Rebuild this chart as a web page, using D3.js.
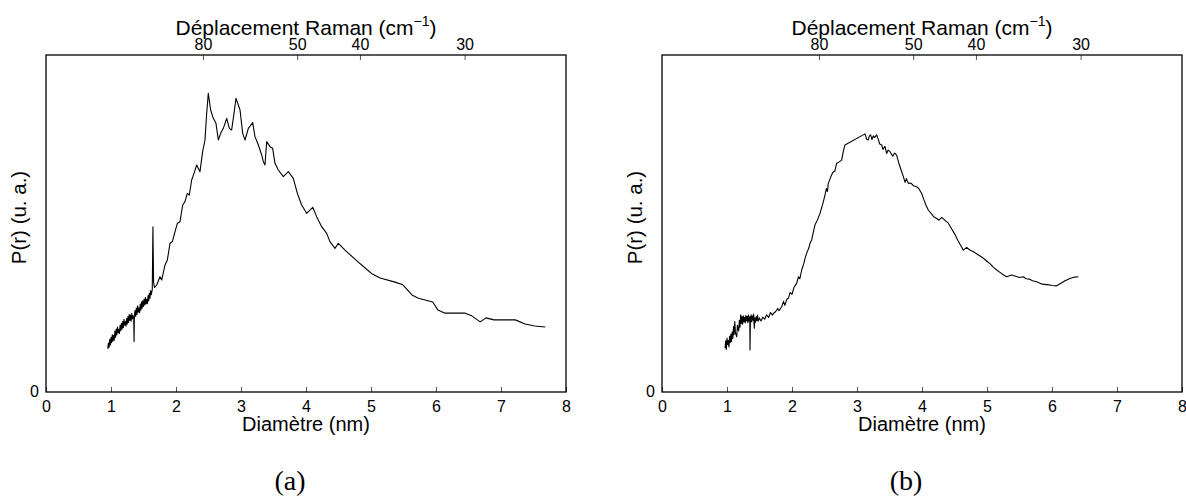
<!DOCTYPE html>
<html><head><meta charset="utf-8">
<script src="https://cdn.jsdelivr.net/npm/d3@7"></script>
<style>
html,body{margin:0;padding:0;background:#fff;}
svg text{font-family:"Liberation Sans",Arial,Helvetica,sans-serif;fill:#000;}
</style></head>
<body>
<svg id="chart" width="1186" height="498"></svg>
<script>
// ---- data ----
const diamTicks = [0,1,2,3,4,5,6,7,8];
const ramanTicks = [80,50,40,30];
const ramanConst = 193.2; // diameter (nm) = ramanConst / shift
const xLabel = "Diamètre (nm)";
const topLabel = "Déplacement Raman (cm";
const yLabel = "P(r) (u. a.)";
const panelLabels = ["(a)","(b)"];

const diamA = [0.95,0.96,0.97,0.98,0.99,1.00,1.01,1.02,1.03,1.04,1.05,1.06,1.07,1.08,1.09,1.10,1.11,1.12,1.13,1.14,1.15,1.16,1.17,1.18,1.19,1.20,1.21,1.22,1.23,1.24,1.25,1.26,1.27,1.28,1.29,1.30,1.31,1.32,1.33,1.34,1.35,1.355,1.36,1.37,1.38,1.39,1.40,1.41,1.42,1.43,1.44,1.45,1.46,1.47,1.48,1.49,1.50,1.51,1.52,1.53,1.54,1.55,1.56,1.57,1.58,1.59,1.60,1.61,1.62,1.635,1.645,1.655,1.67,1.703,1.754,1.780,1.831,1.867,1.908,1.944,1.985,2.021,2.062,2.103,2.138,2.174,2.205,2.241,2.277,2.318,2.369,2.410,2.446,2.472,2.497,2.533,2.574,2.615,2.651,2.687,2.728,2.780,2.821,2.856,2.892,2.923,2.959,2.985,3.026,3.062,3.113,3.180,3.215,3.267,3.318,3.344,3.369,3.395,3.446,3.487,3.523,3.574,3.651,3.728,3.805,3.867,3.933,4.010,4.103,4.164,4.241,4.318,4.369,4.446,4.497,4.60,4.80,4.91,5.02,5.14,5.37,5.49,5.63,5.72,5.83,5.95,6.03,6.14,6.29,6.45,6.55,6.68,6.77,6.89,7.06,7.22,7.37,7.52,7.68];
const probA = [12.8,14.5,13.2,15.6,13.9,16.2,14.6,17.0,15.1,16.8,15.4,18.1,16.2,18.7,16.9,19.3,17.5,18.6,17.4,19.8,18.2,20.4,18.6,20.9,19.1,21.6,19.8,20.9,19.5,21.8,20.1,22.4,20.6,23.0,21.2,22.8,21.0,23.3,21.7,22.6,21.9,15.0,22.8,24.2,22.4,24.9,23.0,25.6,23.7,25.0,23.5,26.1,24.3,26.8,24.9,27.1,25.4,27.6,25.8,28.0,26.1,27.5,26.2,28.6,27.0,29.3,27.8,30.1,28.9,30.4,49.0,32.5,31.0,31.75,34.22,33.23,37.69,39.17,44.12,44.61,47.58,50.05,50.54,55.49,56.48,58.95,58.46,62.91,64.89,67.36,65.38,71.31,74.78,82.69,88.63,83.68,81.21,79.72,74.78,76.76,78.24,81.21,78.24,77.74,82.69,87.14,85.16,83.68,76.76,74.78,78.24,79.92,75.77,73.29,70.33,68.35,67.36,74.28,72.80,72.31,67.85,65.88,63.90,65.38,63.40,58.95,55.49,53.02,54.80,52.03,49.06,47.08,44.61,42.63,44.12,42.1,38.6,36.8,35.0,33.8,32.6,31.8,28.8,27.9,27.3,26.7,24.3,23.4,23.4,23.4,22.6,20.8,22.0,21.4,21.4,21.4,20.2,19.6,19.3];

const diamB = [0.97,0.98,0.99,1.00,1.01,1.02,1.03,1.04,1.05,1.06,1.07,1.08,1.09,1.10,1.11,1.12,1.13,1.15,1.16,1.18,1.19,1.20,1.21,1.22,1.23,1.24,1.25,1.26,1.27,1.28,1.29,1.30,1.31,1.32,1.33,1.34,1.35,1.354,1.36,1.37,1.38,1.39,1.40,1.41,1.42,1.43,1.44,1.45,1.46,1.47,1.48,1.50,1.52,1.533,1.55,1.58,1.61,1.64,1.67,1.70,1.713,1.75,1.78,1.80,1.841,1.87,1.89,1.92,1.944,1.97,2.00,2.03,2.072,2.10,2.12,2.149,2.18,2.20,2.226,2.26,2.28,2.303,2.33,2.354,2.39,2.431,2.47,2.50,2.53,2.545,2.559,2.60,2.63,2.66,2.687,2.72,2.764,2.79,2.815,3.123,3.15,3.174,3.19,3.21,3.23,3.25,3.27,3.303,3.33,3.35,3.38,3.40,3.43,3.456,3.48,3.508,3.55,3.58,3.61,3.65,3.68,3.713,3.74,3.76,3.79,3.83,3.87,3.918,3.95,3.995,4.03,4.06,4.097,4.14,4.18,4.226,4.26,4.303,4.35,4.405,4.45,4.50,4.55,4.60,4.636,4.687,4.73,4.79,4.85,4.90,4.944,5.00,5.05,5.10,5.149,5.20,5.25,5.303,5.379,5.45,5.50,5.559,5.60,5.65,5.70,5.764,5.85,5.95,6.00,6.072,6.15,6.20,6.277,6.35,6.405];
const probB = [13.0,15.2,12.6,16.0,14.1,15.3,13.4,16.5,14.6,17.2,15.0,17.8,15.9,19.4,17.1,20.9,17.5,16.4,19.8,18.1,21.3,19.2,22.9,20.3,22.4,20.1,22.6,20.8,22.2,20.5,22.7,21.1,22.5,20.6,22.8,21.0,22.3,12.5,21.5,22.9,20.8,22.6,21.3,23.1,18.9,22.0,20.7,22.4,21.2,22.8,21.0,22.0,21.1,21.4,22.2,21.6,22.9,22.1,23.6,22.8,23.3,23.9,24.8,24.1,25.3,26.9,25.7,27.5,27.8,29.5,29.0,31.0,32.3,34.2,33.6,36.2,38.0,39.6,41.2,42.8,44.3,45.1,47.6,49.6,51.0,53.0,55.6,57.8,60.4,59.5,61.9,64.0,65.2,65.6,67.9,68.2,68.8,71.5,73.3,76.6,75.0,74.8,76.0,76.3,74.9,76.0,75.5,76.3,74.8,73.6,73.3,72.0,72.9,70.8,71.8,71.3,70.0,70.9,70.3,67.5,65.8,63.9,62.2,63.3,61.9,62.0,61.2,60.9,60.4,58.9,57.0,55.5,54.0,53.0,52.0,51.5,51.0,51.8,51.0,50.1,48.6,47.0,45.0,43.3,42.1,42.9,42.2,41.6,40.9,40.3,39.7,38.8,38.0,37.0,36.2,35.5,34.8,34.2,34.7,34.3,34.0,34.2,33.6,33.5,33.0,32.7,32.0,31.8,31.6,31.5,32.4,33.0,33.7,34.1,34.2];

// ---- drawing ----
const svg = d3.select("#chart");
const panels = [
  {left:46, diam:diamA, prob:probA, label:panelLabels[0], capX:290},
  {left:662, diam:diamB, prob:probB, label:panelLabels[1], capX:906}
];
const plotW = 520, plotTop = 55, plotBottom = 392;

panels.forEach(p => {
  const g = svg.append("g");
  const x = d3.scaleLinear().domain([0,8]).range([p.left, p.left+plotW]);
  const y = d3.scaleLinear().domain([0,100]).range([plotBottom, plotTop]);

  const xb = g.append("g").attr("transform",`translate(0,${plotBottom})`)
    .call(d3.axisBottom(x).tickValues(diamTicks).tickSizeInner(-5).tickSizeOuter(0).tickPadding(9).tickFormat(d3.format("d")));
  xb.select(".domain").remove();
  xb.selectAll(".tick line").attr("stroke","#555").attr("stroke-width",1);
  xb.selectAll(".tick text").attr("font-size",16).attr("font-family","Liberation Sans, Arial, sans-serif");

  const xt = g.append("g").attr("transform",`translate(0,${plotTop})`)
    .call(d3.axisTop(x).tickValues(ramanTicks.map(r=>ramanConst/r)).tickSizeInner(-5).tickSizeOuter(0).tickPadding(5)
      .tickFormat((d,i)=>ramanTicks[i]));
  xt.select(".domain").remove();
  xt.selectAll(".tick line").attr("stroke","#555").attr("stroke-width",1);
  xt.selectAll(".tick text").attr("font-size",16).attr("font-family","Liberation Sans, Arial, sans-serif");

  g.append("rect").attr("x",p.left).attr("y",plotTop).attr("width",plotW).attr("height",plotBottom-plotTop)
    .attr("fill","none").attr("stroke","#000").attr("stroke-width",1.3);

  g.append("text").attr("x",p.left-7).attr("y",plotBottom+5).attr("text-anchor","end")
    .attr("font-size",16).text(y.domain()[0]);

  const data = p.diam.map((d,i)=>[d,p.prob[i]]);
  g.append("path").datum(data)
    .attr("fill","none").attr("stroke","#000").attr("stroke-width",1.1)
    .attr("stroke-linejoin","round")
    .attr("d", d3.line().x(d=>x(d[0])).y(d=>y(d[1])));

  const cx = p.left + plotW/2;
  g.append("text").attr("x",cx).attr("y",431).attr("text-anchor","middle").attr("font-size",20).text(xLabel);
  const t = g.append("text").attr("x",cx).attr("y",35).attr("text-anchor","middle").attr("font-size",21);
  t.append("tspan").text(topLabel);
  t.append("tspan").attr("dy",-9).attr("font-size",14).text("−1");
  t.append("tspan").attr("dy",9).text(")");
  g.append("text").attr("transform",`translate(${p.left-20},${(plotTop+plotBottom)/2 - 6}) rotate(-90)`)
    .attr("text-anchor","middle").attr("font-size",20.5).text(yLabel);
  g.append("text").attr("x",p.capX).attr("y",490).attr("text-anchor","middle")
    .style("font-family","'Liberation Serif', serif")
    .attr("font-size",28).text(p.label);
});
</script>
</body></html>
